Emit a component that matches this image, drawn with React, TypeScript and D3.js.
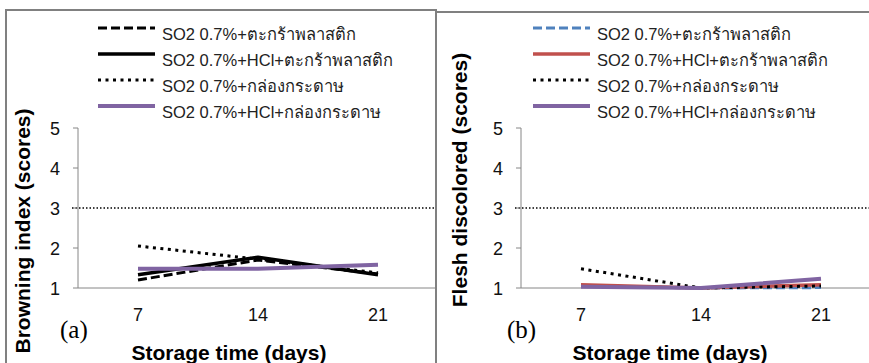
import React from "react";
import * as d3 from "d3";

const categories = ["7", "14", "21"];
const yTicks = [1, 2, 3, 4, 5];
const legendLabels = [
  "SO2 0.7%+ตะกร้าพลาสติก",
  "SO2 0.7%+HCl+ตะกร้าพลาสติก",
  "SO2 0.7%+กล่องกระดาษ",
  "SO2 0.7%+HCl+กล่องกระดาษ",
];
const browningDashed = [1.2, 1.7, 1.35];
const browningSolid = [1.33, 1.77, 1.33];
const browningDotted = [2.05, 1.72, 1.38];
const browningPurple = [1.48, 1.48, 1.58];
const fleshDashed = [1.05, 1.0, 1.01];
const fleshSolid = [1.08, 1.0, 1.08];
const fleshDotted = [1.48, 1.0, 1.05];
const fleshPurple = [1.03, 1.0, 1.23];
const refLine = 3;

type Style = { color: string; width: number; dash?: string };
const stylesA: Style[] = [
  { color: "#000", width: 3, dash: "9,4" },
  { color: "#000", width: 3.5 },
  { color: "#000", width: 3, dash: "3,4.5" },
  { color: "#8064A2", width: 4 },
];
const stylesB: Style[] = [
  { color: "#4F81BD", width: 3, dash: "9,4" },
  { color: "#C0504D", width: 3.5 },
  { color: "#000", width: 3, dash: "3,4.5" },
  { color: "#8064A2", width: 4 },
];

const SANS = "'Liberation Sans', Arial, 'DejaVu Sans', sans-serif";
const SERIF = "'Liberation Serif', 'Times New Roman', serif";

function Panel(props: {
  x0: number;
  right: number;
  series: number[][];
  styles: Style[];
  title: string;
  titleX: number;
  titleY: number;
  tag: string;
  tagX: number;
  legendX: number;
  xLabelX: number;
}) {
  const { x0, right, series, styles } = props;
  const x = d3.scaleBand<string>().domain(categories).range([x0, x0 + 360]).paddingInner(0);
  const cx = (c: string) => (x(c) as number) + x.bandwidth() / 2;
  const y = d3.scaleLinear().domain([1, 5]).range([288, 128]);
  const line = d3
    .line<number>()
    .x((_, i) => cx(categories[i]))
    .y((d) => y(d));
  const legendY = d3.scaleLinear().domain([0, 1]).range([28, 54]);
  return (
    <g>
      <line x1={x0 - 6} x2={right} y1={y(refLine)} y2={y(refLine)} stroke="#000" strokeWidth={1.3} strokeDasharray="1.5,2" />
      <line x1={x0} x2={x0} y1={y(5)} y2={y(1)} stroke="#868686" strokeWidth={1} />
      <line x1={x0} x2={right} y1={y(1)} y2={y(1)} stroke="#868686" strokeWidth={1} />
      {yTicks.map((t) => (
        <g key={t}>
          <line x1={x0 - 5} x2={x0} y1={y(t)} y2={y(t)} stroke="#868686" strokeWidth={1} />
          <text x={x0 - 18} y={y(t) + 6.5} textAnchor="end" fontSize={18} fontFamily={SANS} fill="#111">
            {t}
          </text>
        </g>
      ))}
      {categories.map((c) => (
        <text key={c} x={cx(c)} y={321} textAnchor="middle" fontSize={18} fontFamily={SANS} fill="#111">
          {c}
        </text>
      ))}
      {series.map((s, i) => (
        <path
          key={i}
          d={line(s) || ""}
          fill="none"
          stroke={styles[i].color}
          strokeWidth={styles[i].width}
          strokeDasharray={styles[i].dash}
          strokeLinejoin="round"
        />
      ))}
      {legendLabels.map((l, i) => {
        const ly = legendY(i);
        return (
          <g key={i}>
            <line
              x1={props.legendX}
              x2={props.legendX + 57}
              y1={ly}
              y2={ly}
              stroke={styles[i].color}
              strokeWidth={styles[i].width}
              strokeDasharray={styles[i].dash}
            />
            <text x={props.legendX + 64} y={ly + 12} fontSize={16.5} fontFamily={SANS} fill="#222">
              {l}
            </text>
          </g>
        );
      })}
      <text
        transform={`translate(${props.titleX},${props.titleY}) rotate(-90)`}
        textAnchor="middle"
        dy="0.35em"
        fontSize={21}
        fontWeight="bold"
        fontFamily={SANS}
        fill="#000"
      >
        {props.title}
      </text>
      <text x={props.xLabelX} y={360} textAnchor="middle" fontSize={21} fontWeight="bold" fontFamily={SANS} fill="#000">
        Storage time (days)
      </text>
      <text x={props.tagX} y={338} fontSize={25} fontFamily={SERIF} fill="#000">
        {props.tag}
      </text>
    </g>
  );
}

export default function App() {
  return (
    <svg width={869} height={363} style={{ position: "fixed", left: 0, top: 0, background: "#fff" }}>
      <rect x={0} y={0} width={869} height={363} fill="#fff" />
      <Panel
        x0={78}
        right={436}
        series={[browningDashed, browningSolid, browningDotted, browningPurple]}
        styles={stylesA}
        title="Browning index (scores)"
        titleX={23}
        titleY={231}
        tag="(a)"
        tagX={60}
        legendX={98}
        xLabelX={229}
      />
      <Panel
        x0={521}
        right={869}
        series={[fleshDashed, fleshSolid, fleshDotted, fleshPurple]}
        styles={stylesB}
        title="Flesh discolored (scores)"
        titleX={460}
        titleY={180}
        tag="(b)"
        tagX={507}
        legendX={533}
        xLabelX={670}
      />
      <line x1={6} x2={6} y1={9} y2={363} stroke="#808080" strokeWidth={2} />
      <line x1={5} x2={437} y1={10} y2={10} stroke="#808080" strokeWidth={2} />
      <line x1={436} x2={436} y1={9} y2={363} stroke="#808080" strokeWidth={2} />
      <line x1={436} x2={869} y1={12} y2={12} stroke="#808080" strokeWidth={2} />
    </svg>
  );
}
